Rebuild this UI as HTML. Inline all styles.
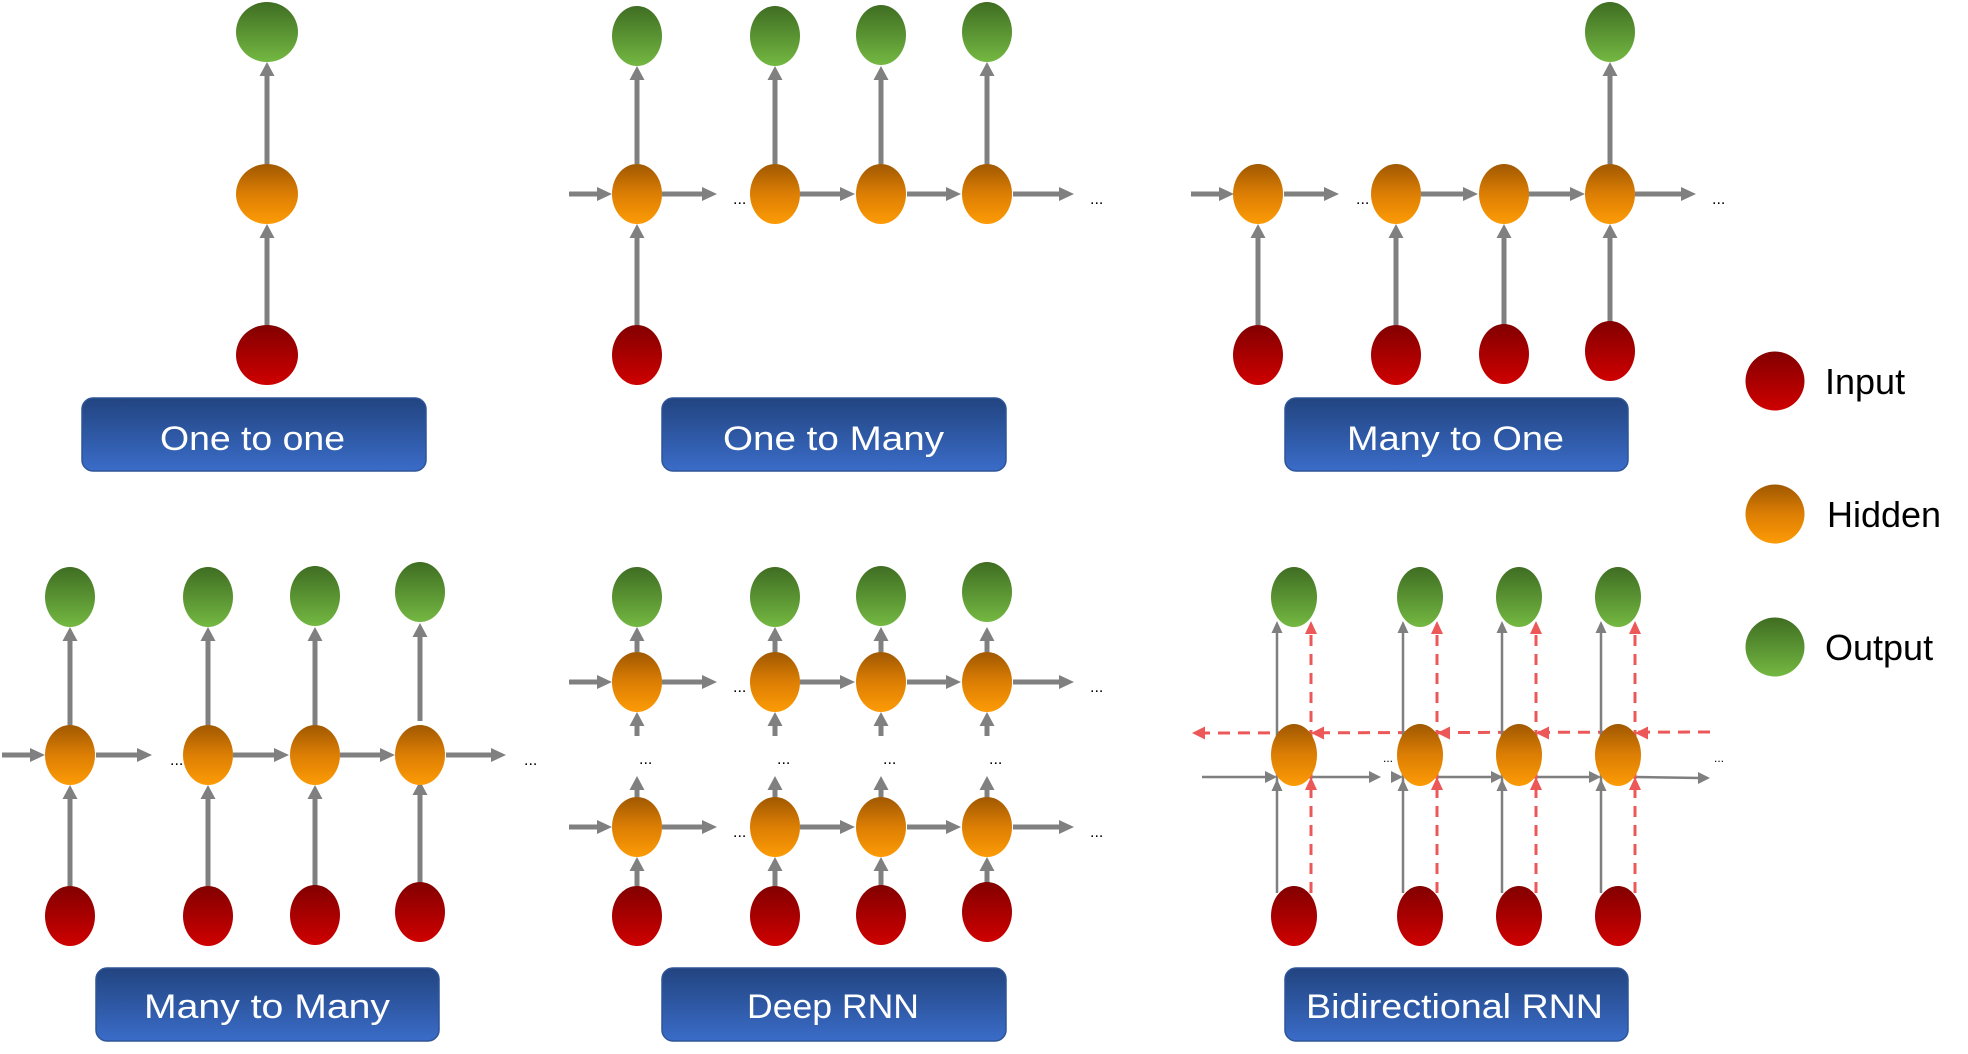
<!DOCTYPE html>
<html><head><meta charset="utf-8"><style>html,body{margin:0;padding:0;background:#fff}svg{display:block}</style></head><body>
<svg width="1968" height="1054" viewBox="0 0 1968 1054" xmlns="http://www.w3.org/2000/svg">
<defs>
<linearGradient id="gG" x1="0" y1="0" x2="0" y2="1"><stop offset="0" stop-color="#3f6d22"/><stop offset="1" stop-color="#74b842"/></linearGradient>
<linearGradient id="gO" x1="0" y1="0" x2="0" y2="1"><stop offset="0" stop-color="#a05800"/><stop offset="0.5" stop-color="#dc7e04"/><stop offset="1" stop-color="#fd9b05"/></linearGradient>
<linearGradient id="gR" x1="0" y1="0" x2="0" y2="1"><stop offset="0" stop-color="#820000"/><stop offset="1" stop-color="#cf0000"/></linearGradient>
<linearGradient id="gB" x1="0" y1="0" x2="0" y2="1"><stop offset="0" stop-color="#224480"/><stop offset="1" stop-color="#3a6cc8"/></linearGradient>
<g id="hrow">
<path d="M569 191.5H597V187L612 194L597 201V196.5H569Z"/>
<path d="M662 191.5H702V187L717 194L702 201V196.5H662Z"/>
<path d="M800 191.5H840V187L855 194L840 201V196.5H800Z"/>
<path d="M907 191.5H946V187L961 194L946 201V196.5H907Z"/>
<path d="M1013 191.5H1059V187L1074 194L1059 201V196.5H1013Z"/>
</g>
<g id="dcol">
<path d="M-2.5 652V641H-7.5L0 627L7.5 641H2.5V652Z"/>
<path d="M-2.5 736V726H-7.5L0 712L7.5 726H2.5V736Z"/>
<path d="M-2.5 797V790H-7.5L0 776L7.5 790H2.5V797Z"/>
<path d="M-2.5 886V871H-7.5L0 857L7.5 871H2.5V886Z"/>
</g>
<g id="mcol">
<path d="M-2.5 886V799H-7.5L0 785L7.5 799H2.5V886Z"/>
<path d="M-2.5 725V641H-7.5L0 627L7.5 641H2.5V725Z"/>
</g>
<g id="bcol">
<line x1="-17" y1="893" x2="-17" y2="630" stroke="#7f7f7f" stroke-width="2.5"/>
<line x1="17" y1="893" x2="17" y2="632" stroke="#ec5858" stroke-width="3" stroke-dasharray="11 8"/>
<ellipse cx="0" cy="597" rx="23" ry="30" fill="url(#gG)"/>
<ellipse cx="0" cy="755" rx="23" ry="31" fill="url(#gO)"/>
<ellipse cx="0" cy="916" rx="23" ry="30" fill="url(#gR)"/>
<polygon points="-17,621 -22.5,633 -11.5,633" fill="#7f7f7f"/>
<polygon points="-17,779 -22.5,791 -11.5,791" fill="#7f7f7f"/>
<polygon points="17,621 11,634 23,634" fill="#ec5858"/>
<polygon points="17,777 11,790 23,790" fill="#ec5858"/>
</g>
</defs>

<!-- gray arrows -->
<g fill="#808080">
<!-- one to one -->
<path d="M264.5 325V238H259.5L267 224L274.5 238H269.5V325Z"/>
<path d="M264.5 164V76H259.5L267 62L274.5 76H269.5V164Z"/>
<!-- one to many -->
<path d="M634.5 164V80H629.5L637 66L644.5 80H639.5V164Z"/>
<path d="M772.5 164V80H767.5L775 66L782.5 80H777.5V164Z"/>
<path d="M878.5 164V80H873.5L881 66L888.5 80H883.5V164Z"/>
<path d="M984.5 164V76H979.5L987 62L994.5 76H989.5V164Z"/>
<path d="M634.5 325V238H629.5L637 224L644.5 238H639.5V325Z"/>
<use href="#hrow"/>
<!-- many to one -->
<path d="M1191 191.5H1219V187L1234 194L1219 201V196.5H1191Z"/>
<path d="M1284 191.5H1324V187L1339 194L1324 201V196.5H1284Z"/>
<path d="M1421 191.5H1463V187L1478 194L1463 201V196.5H1421Z"/>
<path d="M1528 191.5H1570V187L1585 194L1570 201V196.5H1528Z"/>
<path d="M1635 191.5H1681V187L1696 194L1681 201V196.5H1635Z"/>
<path d="M1255.5 325V238H1250.5L1258 224L1265.5 238H1260.5V325Z"/>
<path d="M1393.5 325V238H1388.5L1396 224L1403.5 238H1398.5V325Z"/>
<path d="M1501.5 325V238H1496.5L1504 224L1511.5 238H1506.5V325Z"/>
<path d="M1607.5 322V238H1602.5L1610 224L1617.5 238H1612.5V322Z"/>
<path d="M1607.5 164V76H1602.5L1610 62L1617.5 76H1612.5V164Z"/>
<!-- many to many -->
<path d="M2 752.5H30V748L45 755L30 762V757.5H2Z"/>
<path d="M96 752.5H137V748L152 755L137 762V757.5H96Z"/>
<path d="M233 752.5H274V748L289 755L274 762V757.5H233Z"/>
<path d="M340 752.5H380V748L395 755L380 762V757.5H340Z"/>
<path d="M446 752.5H491V748L506 755L491 762V757.5H446Z"/>
<use href="#mcol" x="70"/><use href="#mcol" x="208"/><use href="#mcol" x="315"/><use href="#mcol" x="420" y="-4"/>
<!-- deep rnn -->
<use href="#hrow" y="488"/><use href="#hrow" y="633"/>
<use href="#dcol" x="637"/><use href="#dcol" x="775"/><use href="#dcol" x="881"/><use href="#dcol" x="987"/>
</g>

<!-- ellipses -->
<g>
<ellipse cx="267" cy="32" rx="31" ry="30" fill="url(#gG)"/>
<ellipse cx="267" cy="194" rx="31" ry="30" fill="url(#gO)"/>
<ellipse cx="267" cy="355" rx="31" ry="30" fill="url(#gR)"/>

<ellipse cx="637" cy="36" rx="25" ry="30" fill="url(#gG)"/>
<ellipse cx="775" cy="36" rx="25" ry="30" fill="url(#gG)"/>
<ellipse cx="881" cy="35" rx="25" ry="30" fill="url(#gG)"/>
<ellipse cx="987" cy="32" rx="25" ry="30" fill="url(#gG)"/>
<ellipse cx="637" cy="194" rx="25" ry="30" fill="url(#gO)"/>
<ellipse cx="775" cy="194" rx="25" ry="30" fill="url(#gO)"/>
<ellipse cx="881" cy="194" rx="25" ry="30" fill="url(#gO)"/>
<ellipse cx="987" cy="194" rx="25" ry="30" fill="url(#gO)"/>
<ellipse cx="637" cy="355" rx="25" ry="30" fill="url(#gR)"/>

<ellipse cx="1610" cy="32" rx="25" ry="30" fill="url(#gG)"/>
<ellipse cx="1258" cy="194" rx="25" ry="30" fill="url(#gO)"/>
<ellipse cx="1396" cy="194" rx="25" ry="30" fill="url(#gO)"/>
<ellipse cx="1504" cy="194" rx="25" ry="30" fill="url(#gO)"/>
<ellipse cx="1610" cy="194" rx="25" ry="30" fill="url(#gO)"/>
<ellipse cx="1258" cy="355" rx="25" ry="30" fill="url(#gR)"/>
<ellipse cx="1396" cy="355" rx="25" ry="30" fill="url(#gR)"/>
<ellipse cx="1504" cy="354" rx="25" ry="30" fill="url(#gR)"/>
<ellipse cx="1610" cy="351" rx="25" ry="30" fill="url(#gR)"/>

<ellipse cx="70" cy="597" rx="25" ry="30" fill="url(#gG)"/>
<ellipse cx="208" cy="597" rx="25" ry="30" fill="url(#gG)"/>
<ellipse cx="315" cy="596" rx="25" ry="30" fill="url(#gG)"/>
<ellipse cx="420" cy="592" rx="25" ry="30" fill="url(#gG)"/>
<ellipse cx="70" cy="755" rx="25" ry="30" fill="url(#gO)"/>
<ellipse cx="208" cy="755" rx="25" ry="30" fill="url(#gO)"/>
<ellipse cx="315" cy="755" rx="25" ry="30" fill="url(#gO)"/>
<ellipse cx="420" cy="755" rx="25" ry="30" fill="url(#gO)"/>
<ellipse cx="70" cy="916" rx="25" ry="30" fill="url(#gR)"/>
<ellipse cx="208" cy="916" rx="25" ry="30" fill="url(#gR)"/>
<ellipse cx="315" cy="915" rx="25" ry="30" fill="url(#gR)"/>
<ellipse cx="420" cy="912" rx="25" ry="30" fill="url(#gR)"/>

<ellipse cx="637" cy="597" rx="25" ry="30" fill="url(#gG)"/>
<ellipse cx="775" cy="597" rx="25" ry="30" fill="url(#gG)"/>
<ellipse cx="881" cy="596" rx="25" ry="30" fill="url(#gG)"/>
<ellipse cx="987" cy="592" rx="25" ry="30" fill="url(#gG)"/>
<ellipse cx="637" cy="682" rx="25" ry="30" fill="url(#gO)"/>
<ellipse cx="775" cy="682" rx="25" ry="30" fill="url(#gO)"/>
<ellipse cx="881" cy="682" rx="25" ry="30" fill="url(#gO)"/>
<ellipse cx="987" cy="682" rx="25" ry="30" fill="url(#gO)"/>
<ellipse cx="637" cy="827" rx="25" ry="30" fill="url(#gO)"/>
<ellipse cx="775" cy="827" rx="25" ry="30" fill="url(#gO)"/>
<ellipse cx="881" cy="827" rx="25" ry="30" fill="url(#gO)"/>
<ellipse cx="987" cy="827" rx="25" ry="30" fill="url(#gO)"/>
<ellipse cx="637" cy="916" rx="25" ry="30" fill="url(#gR)"/>
<ellipse cx="775" cy="916" rx="25" ry="30" fill="url(#gR)"/>
<ellipse cx="881" cy="915" rx="25" ry="30" fill="url(#gR)"/>
<ellipse cx="987" cy="912" rx="25" ry="30" fill="url(#gR)"/>
</g>

<!-- bidirectional -->
<line x1="1710" y1="732" x2="1203" y2="733" stroke="#ec5858" stroke-width="3" stroke-dasharray="12 8"/>
<g stroke="#7f7f7f" stroke-width="2.5">
<line x1="1202" y1="777" x2="1268" y2="777"/>
<line x1="1311" y1="777" x2="1372" y2="777"/>
<line x1="1438" y1="777" x2="1495" y2="777"/>
<line x1="1537" y1="777" x2="1594" y2="777"/>
<line x1="1635" y1="777" x2="1700" y2="778"/>
</g>
<use href="#bcol" x="1294"/><use href="#bcol" x="1420"/><use href="#bcol" x="1519"/><use href="#bcol" x="1618"/>
<g fill="#ec5858">
<polygon points="1192,733 1205,726.5 1205,739.5"/>
<polygon points="1311,733 1324,726.5 1324,739.5"/>
<polygon points="1437,733 1450,726.5 1450,739.5"/>
<polygon points="1536,733 1549,726.5 1549,739.5"/>
<polygon points="1635,733 1648,726.5 1648,739.5"/>
</g>
<g fill="#7f7f7f">
<polygon points="1277,777 1265,771 1265,783"/>
<polygon points="1381,777 1369,771 1369,783"/>
<polygon points="1403,777 1391,771 1391,783"/>
<polygon points="1503,777 1491,771 1491,783"/>
<polygon points="1601,777 1589,771 1589,783"/>
<polygon points="1710,778 1698,772 1698,784"/>
</g>

<!-- dots -->
<g font-family="Liberation Sans, sans-serif" font-size="16" fill="#000">
<text x="733" y="204">...</text>
<text x="1090" y="204">...</text>
<text x="1356" y="204">...</text>
<text x="1712" y="204">...</text>
<text x="170" y="765">...</text>
<text x="524" y="765">...</text>
<text x="733" y="692">...</text>
<text x="1090" y="692">...</text>
<text x="733" y="837">...</text>
<text x="1090" y="837">...</text>
<text x="639" y="764">...</text>
<text x="777" y="764">...</text>
<text x="883" y="764">...</text>
<text x="989" y="764">...</text>
<text x="1383" y="762" font-size="12">...</text>
<text x="1714" y="762" font-size="12">...</text>
</g>

<!-- boxes -->
<g stroke="#2e5597" stroke-width="1.5" fill="url(#gB)">
<rect x="82" y="398" width="344" height="73" rx="11"/>
<rect x="662" y="398" width="344" height="73" rx="11"/>
<rect x="1285" y="398" width="343" height="73" rx="11"/>
<rect x="96" y="968" width="343" height="73" rx="11"/>
<rect x="662" y="968" width="344" height="73" rx="11"/>
<rect x="1285" y="968" width="343" height="73" rx="11"/>
</g>
<g font-family="Liberation Sans, sans-serif" font-size="34" fill="#fff" lengthAdjust="spacingAndGlyphs">
<text x="160" y="450" textLength="185" lengthAdjust="spacingAndGlyphs">One to one</text>
<text x="723" y="450" textLength="221" lengthAdjust="spacingAndGlyphs">One to Many</text>
<text x="1347" y="450" textLength="217" lengthAdjust="spacingAndGlyphs">Many to One</text>
<text x="144" y="1018" textLength="246" lengthAdjust="spacingAndGlyphs">Many to Many</text>
<text x="747" y="1018" textLength="172" lengthAdjust="spacingAndGlyphs">Deep RNN</text>
<text x="1306" y="1018" textLength="297" lengthAdjust="spacingAndGlyphs">Bidirectional RNN</text>
</g>

<!-- legend -->
<circle cx="1775" cy="381" r="29.5" fill="url(#gR)"/>
<circle cx="1775" cy="514" r="29.5" fill="url(#gO)"/>
<circle cx="1775" cy="647" r="29.5" fill="url(#gG)"/>
<g font-family="Liberation Sans, sans-serif" font-size="36" fill="#000">
<text x="1825" y="394">Input</text>
<text x="1827" y="527">Hidden</text>
<text x="1825" y="660">Output</text>
</g>
</svg>
</body></html>
